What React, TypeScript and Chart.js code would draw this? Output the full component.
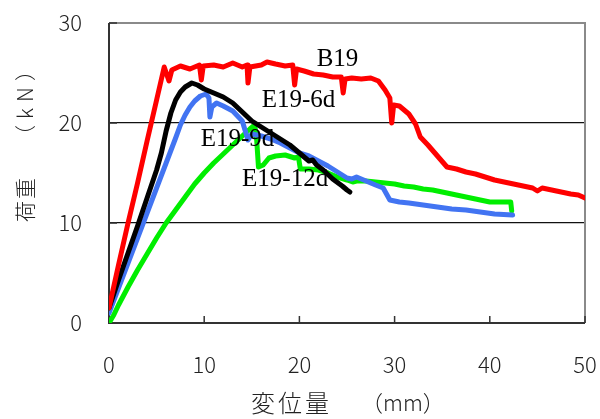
import React, { useEffect, useRef } from "react";
import { Chart, registerables } from "chart.js";

Chart.register(...registerables);

type P = [number, number];

const xTicks = [0, 10, 20, 30, 40, 50];
const yTicks = [0, 10, 20, 30];

const xTitleMain = "変位量";
const xTitleUnit = "（mm）";
const yTitleMain = "荷重";
const yTitleUnit = "（kN）";

const seriesNames = ["B19", "E19-6d", "E19-9d", "E19-12d"];
const seriesColors = ["#ff0000", "#000000", "#4274f2", "#00ee00"];

const b19: P[] = [
  [0, 1.5], [1, 5.8], [2, 10], [3, 14], [4, 18.2], [5, 22.3], [5.8, 25.6], [6.3, 24.2], [6.6, 25.3],
  [7.5, 25.7], [8.5, 25.4], [9.5, 25.8], [9.7, 24.3], [9.9, 25.7], [11, 25.8], [12, 25.6], [13, 26],
  [14, 25.6], [14.5, 25.8], [14.6, 24], [14.8, 25.6], [16, 25.8], [16.6, 26.1], [17.5, 25.9],
  [18.5, 25.7], [19.3, 25.8], [19.5, 23.8], [19.7, 25.4], [20.5, 25.2], [21.5, 24.9], [22.5, 24.8],
  [23.5, 24.6], [24.4, 24.6], [24.6, 23], [24.8, 24.4], [25.5, 24.5], [26.5, 24.4], [27.5, 24.5],
  [28.3, 24.2], [29, 23.3], [29.5, 22.5], [29.7, 20], [29.9, 21.8], [30.5, 21.7], [31.5, 20.9],
  [32.2, 19.9], [32.7, 18.6], [33.5, 17.8], [34.5, 16.7], [35.5, 15.6], [36.5, 15.4], [37.5, 15.1],
  [38.5, 14.9], [39.5, 14.6], [40.5, 14.3], [41.5, 14.1], [42.5, 13.9], [43.5, 13.7], [44.5, 13.5],
  [45, 13.2], [45.5, 13.5], [46.5, 13.3], [47.5, 13.1], [48.5, 12.9], [49.3, 12.8], [50, 12.5],
];

const e19_6d: P[] = [
  [0, 1.5], [1, 4.3], [2, 7], [3, 9.7], [4, 12.5], [5, 15.3], [5.5, 17], [6, 19.2], [6.5, 21],
  [7, 22.3], [7.5, 23.1], [8, 23.6], [8.7, 24], [9.3, 23.8], [10, 23.4], [11, 23], [12, 22.6],
  [13, 22], [14, 21.1], [15, 20.2], [16, 19.6], [17, 19], [18, 18.4], [19, 17.8], [20, 17],
  [21, 16.2], [21.4, 16.3], [21.8, 15.8], [22.5, 15.3], [23.5, 14.4], [24.5, 13.7], [25, 13.3],
  [25.3, 13.1],
];

const e19_9d: P[] = [
  [0, 1], [1, 3.5], [2, 6], [3, 8.5], [4, 11], [5, 13.5], [6, 16], [7, 18.5], [7.5, 19.8], [8, 20.8],
  [8.5, 21.6], [9, 22.2], [9.6, 22.7], [10.2, 22.9], [10.5, 22.5], [10.6, 20.6], [10.8, 21.6],
  [11.3, 22], [12, 21.7], [13, 21.2], [14, 20.2], [14.6, 18.3], [15, 18.9], [16, 18.7], [17, 18.4],
  [18, 18], [19, 17.5], [20, 17], [21, 16.7], [22, 16.2], [23, 15.7], [24, 15.1], [25, 14.5],
  [25.5, 14.4], [26, 14.6], [27, 14.2], [28, 13.8], [28.8, 13.5], [29.5, 12.3], [30.5, 12.1],
  [31.5, 12], [33, 11.8], [34.5, 11.6], [36, 11.4], [37.5, 11.3], [39, 11.1], [40.5, 10.9], [42.4, 10.8],
];

const e19_12d: P[] = [
  [0, 0], [0.5, 0.8], [1, 1.8], [2, 3.6], [3, 5.3], [4, 6.9], [5, 8.5], [6, 10], [7, 11.3], [8, 12.6],
  [9, 13.9], [10, 15], [11, 16], [12, 16.9], [13, 17.8], [14, 18.7], [14.8, 19.4], [15.3, 19.8],
  [15.5, 18.5], [15.7, 15.6], [16.2, 15.8], [16.8, 16.5], [17.5, 16.7], [18.5, 16.8], [19.5, 16.5],
  [19.9, 16.6], [20.1, 15.4], [21, 15.4], [22, 15.3], [23, 15], [24, 14.6], [25, 14.3], [25.6, 14.1],
  [26, 14.2], [27, 14.2], [28, 14.1], [29, 14], [30, 13.9], [31, 13.7], [32, 13.6], [33, 13.4],
  [34, 13.3], [35, 13.1], [36, 12.9], [37, 12.7], [38, 12.5], [39, 12.3], [40, 12.1], [41, 12.1],
  [42.2, 12.1], [42.3, 11.2],
];

const seriesData: P[][] = [b19, e19_6d, e19_9d, e19_12d];

// label anchor points in data coordinates (x mm, y kN)
const labelX = [24, 19.9, 13.5, 18.5];
const labelY = [26.4, 22.3, 18.4, 14.4];

const CJK = '"Noto Sans CJK JP", "Noto Sans", sans-serif';

const decorPlugin = {
  id: "decor",
  beforeDatasetsDraw(chart: any) {
    const { ctx, chartArea: a, scales } = chart;
    ctx.save();
    ctx.strokeStyle = "#8a8a8a";
    ctx.lineWidth = 2;
    ctx.beginPath();
    ctx.moveTo(a.left, a.top);
    ctx.lineTo(a.right, a.top);
    ctx.lineTo(a.right, a.bottom);
    ctx.stroke();
    ctx.strokeStyle = "#333";
    ctx.beginPath();
    ctx.moveTo(a.left, a.top);
    ctx.lineTo(a.left, a.bottom);
    ctx.lineTo(a.right, a.bottom);
    ctx.stroke();
    ctx.lineWidth = 1.5;
    ctx.beginPath();
    for (const v of xTicks) {
      const px = scales.x.getPixelForValue(v);
      ctx.moveTo(px, a.bottom);
      ctx.lineTo(px, a.bottom - 7);
    }
    for (const v of yTicks) {
      const py = scales.y.getPixelForValue(v);
      ctx.moveTo(a.left, py);
      ctx.lineTo(a.left + 8, py);
    }
    ctx.stroke();
    ctx.restore();
  },
  afterDraw(chart: any) {
    const { ctx, chartArea: a, scales } = chart;
    ctx.save();
    ctx.fillStyle = "#000";
    ctx.font = '25px "Liberation Serif", "Times New Roman", serif';
    ctx.textAlign = "center";
    ctx.textBaseline = "middle";
    seriesNames.forEach((n, i) => {
      ctx.fillText(n, scales.x.getPixelForValue(labelX[i]), scales.y.getPixelForValue(labelY[i]));
    });
    // x axis title
    ctx.fillStyle = "#222";
    ctx.textAlign = "left";
    ctx.font = "300 24px " + CJK;
    (ctx as any).letterSpacing = "3px";
    const xt0 = a.left + 142;
    ctx.fillText(xTitleMain, xt0, 403);
    (ctx as any).letterSpacing = "0px";
    ctx.font = "300 22px " + CJK;
    ctx.fillText(xTitleUnit, xt0 + 110, 403);
    // y axis title (rotated)
    ctx.translate(25, a.bottom - 101);
    ctx.rotate(-Math.PI / 2);
    ctx.font = "300 21px " + CJK;
    (ctx as any).letterSpacing = "2px";
    ctx.fillText(yTitleMain, 0, 0);
    (ctx as any).letterSpacing = "6px";
    ctx.textAlign = "center";
    ctx.font = "300 21px " + CJK;
    ctx.fillText(yTitleUnit, 122, 0);
    ctx.restore();
  },
};

export default function App() {
  const ref = useRef<HTMLCanvasElement | null>(null);
  useEffect(() => {
    if (!ref.current) return;
    const chart = new Chart(ref.current, {
      type: "scatter",
      data: {
        datasets: seriesData.map((d, i) => ({
          label: seriesNames[i],
          data: d.map(([x, y]) => ({ x, y })),
          showLine: true,
          borderColor: seriesColors[i],
          backgroundColor: seriesColors[i],
          borderWidth: 5,
          pointRadius: 0,
          tension: 0,
          borderJoinStyle: "round" as const,
          borderCapStyle: "round" as const,
        })),
      },
      options: {
        animation: false,
        responsive: true,
        maintainAspectRatio: false,
        devicePixelRatio: 1,
        layout: { padding: { top: 23, right: 15, left: 0, bottom: 0 } },
        plugins: { legend: { display: false }, tooltip: { enabled: false } },
        scales: {
          x: {
            type: "linear",
            min: 0,
            max: 50,
            afterBuildTicks: (s: any) => { s.ticks = xTicks.map((v) => ({ value: v })); },
            ticks: { font: { family: CJK, size: 22, weight: "300" }, color: "#222", padding: 28, maxRotation: 0 },
            grid: { drawOnChartArea: false, drawTicks: false },
            border: { display: false },
            afterFit: (s: any) => {
              s.height = 96;
              s.paddingLeft = 0;
              s.paddingRight = 0;
            },
          },
          y: {
            type: "linear",
            min: 0,
            max: 30,
            afterBuildTicks: (s: any) => { s.ticks = yTicks.map((v) => ({ value: v })); },
            ticks: { font: { family: CJK, size: 22, weight: "300" }, color: "#222", padding: 27 },
            grid: {
              drawTicks: false,
              color: (c: any) => (c.tick && (c.tick.value === 10 || c.tick.value === 20) ? "#111" : "rgba(0,0,0,0)"),
              lineWidth: 1.2,
            },
            border: { display: false },
            afterFit: (s: any) => {
              s.width = 109;
              s.paddingTop = 0;
              s.paddingBottom = 0;
            },
          },
        },
      },
      plugins: [decorPlugin],
    });
    return () => chart.destroy();
  }, []);
  return (
    <div style={{ position: "fixed", left: 0, top: 0, width: 600, height: 419, background: "#fff" }}>
      <canvas ref={ref} />
    </div>
  );
}
